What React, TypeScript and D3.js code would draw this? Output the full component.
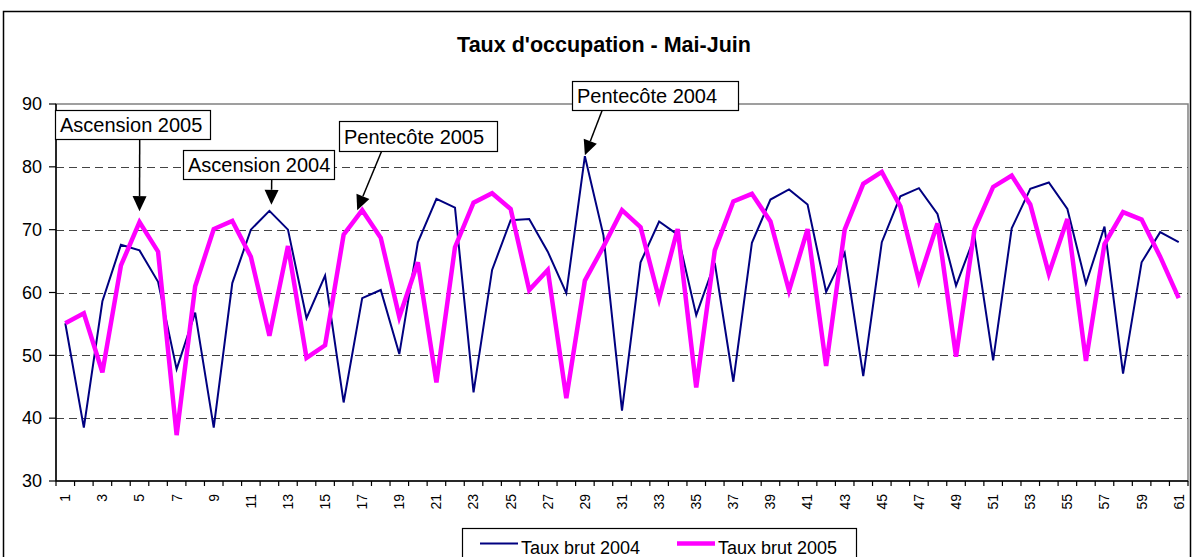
import * as d3 from 'd3'

// day index, Mai-Juin
const days = d3.range(1, 62)

const taux2004 = [
  55.1, 38.5, 58.6, 67.6, 66.7, 61.7, 47.8, 56.8, 38.5, 61.5,
  70.0, 73.0, 70.0, 55.9, 62.7, 42.5, 59.1, 60.4, 50.2, 68.0,
  74.9, 73.5, 44.1, 63.6, 71.5, 71.7, 66.5, 59.9, 81.7, 69.1,
  41.2, 64.8, 71.3, 69.2, 56.4, 64.7, 45.8, 67.9, 74.8, 76.4,
  74.0, 60.1, 66.3, 46.7, 68.0, 75.3, 76.6, 72.5, 61.1, 68.9,
  49.2, 70.2, 76.5, 77.5, 73.3, 61.4, 70.5, 47.1, 64.8, 69.6,
  68.0,
]

const taux2005 = [
  55.1, 56.7, 47.3, 64.3, 71.2, 66.5, 37.3, 61.0, 70.1, 71.4,
  65.7, 53.1, 67.4, 49.6, 51.6, 69.2, 73.1, 68.7, 56.1, 64.8,
  45.7, 67.2, 74.3, 75.8, 73.3, 60.4, 63.6, 43.2, 61.9, 67.3,
  73.1, 70.4, 59.0, 70.1, 44.9, 66.7, 74.5, 75.7, 71.3, 60.3,
  70.1, 48.3, 70.0, 77.3, 79.2, 73.7, 61.9, 71.0, 49.8, 70.1,
  76.8, 78.6, 74.0, 63.0, 71.7, 49.1, 67.7, 72.8, 71.6, 65.7,
  59.1,
]

const yTicks = [30, 40, 50, 60, 70, 80, 90]

const seriesNames = ['Taux brut 2004', 'Taux brut 2005']

const annotationLabels = ['Ascension 2005', 'Ascension 2004', 'Pentecôte 2005', 'Pentecôte 2004']
const annotationDays = [5, 12, 17, 29]
const annotationSeries = [1, 0, 1, 0]

// box placement + arrow start / tip offset, per annotation (layout only)
const annotationLayout = [
  { x: 55, y: 110, w: 155, h: 29, sx: 139.7, dx: 0, dy: -11 },
  { x: 183, y: 150, w: 151, h: 29, sx: 271.7, dx: 2, dy: -6 },
  { x: 339, y: 121, w: 158, h: 30, sx: 381.7, dx: -5, dy: 0 },
  { x: 572, y: 81, w: 166, h: 29, sx: 602.3, dx: 0, dy: -1 },
]

const FONT = '"Liberation Sans", Arial, sans-serif'
const COLORS = ['#000080', '#ff00ff']
const WIDTHS = [2, 4.5]

const W = 1192
const H = 557
const plot = { left: 56, right: 1188, top: 104, bottom: 481 }

const Arrow = ({ x1, y1, x2, y2 }: { x1: number; y1: number; x2: number; y2: number }) => {
  const len = Math.hypot(x2 - x1, y2 - y1)
  const ux = (x2 - x1) / len
  const uy = (y2 - y1) / len
  const head = 15
  const half = 7
  const bx = x2 - ux * head
  const by = y2 - uy * head
  const pts = [
    [x2, y2],
    [bx - uy * half, by + ux * half],
    [bx + uy * half, by - ux * half],
  ]
  return (
    <g>
      <line x1={x1} y1={y1} x2={bx} y2={by} stroke="#000" strokeWidth={1.5} />
      <polygon points={pts.map((p) => p.join(',')).join(' ')} fill="#000" />
    </g>
  )
}

export default function App() {
  const x = d3.scalePoint<number>().domain(days).range([plot.left, plot.right]).padding(0.5)
  const band = d3.scaleBand<number>().domain(days).range([plot.left, plot.right])
  const y = d3.scaleLinear().domain([30, 90]).range([plot.bottom, plot.top])

  const tickEdges = [...days.map((d) => band(d) as number), plot.right]

  const line = d3
    .line<number>()
    .x((_, i) => x(days[i]) as number)
    .y((v) => y(v))

  const allSeries = [taux2004, taux2005]

  return (
    <svg
      width={W}
      height={H}
      style={{ position: 'absolute', left: 0, top: 0, background: '#fff' }}
      fontFamily={FONT}
    >
      <rect x={3.5} y={11.5} width={1187} height={570} fill="#fff" stroke="#000" strokeWidth={1.5} />

      <text x={604} y={52} textAnchor="middle" fontSize={21.5} fontWeight="bold">
        Taux d'occupation - Mai-Juin
      </text>

      {/* plot area frame */}
      <rect
        x={plot.left}
        y={plot.top}
        width={plot.right - plot.left}
        height={plot.bottom - plot.top}
        fill="#fff"
        stroke="#808080"
        strokeWidth={1.5}
      />

      {/* gridlines */}
      {yTicks
        .filter((t) => t > 30 && t < 90)
        .map((t) => (
          <line
            key={t}
            x1={plot.left}
            x2={plot.right}
            y1={Math.round(y(t)) + 0.5}
            y2={Math.round(y(t)) + 0.5}
            stroke="#444"
            strokeWidth={1.2}
            strokeDasharray="8,5"
          />
        ))}

      {/* y axis */}
      <line x1={plot.left} x2={plot.left} y1={plot.top} y2={plot.bottom} stroke="#000" strokeWidth={1.5} />
      {yTicks.map((t) => (
        <g key={t}>
          <line x1={plot.left - 7} x2={plot.left} y1={y(t)} y2={y(t)} stroke="#000" strokeWidth={1.2} />
          <text x={42} y={y(t)} dy="0.35em" textAnchor="end" fontSize={18}>
            {t}
          </text>
        </g>
      ))}

      {/* x axis */}
      <line x1={plot.left} x2={plot.right} y1={plot.bottom} y2={plot.bottom} stroke="#000" strokeWidth={1.5} />
      {tickEdges.map((e, i) => (
        <line key={i} x1={e} x2={e} y1={plot.bottom} y2={plot.bottom + 5} stroke="#000" strokeWidth={1.2} />
      ))}
      {days
        .filter((d) => d % 2 === 1)
        .map((d) => (
          <text
            key={d}
            transform={`translate(${x(d)},${plot.bottom + 13}) rotate(-90)`}
            textAnchor="end"
            dy="0.35em"
            fontSize={14}
          >
            {d}
          </text>
        ))}

      {/* series */}
      {allSeries.map((s, i) => (
        <path
          key={i}
          d={line(s) ?? ''}
          fill="none"
          stroke={COLORS[i]}
          strokeWidth={WIDTHS[i]}
          strokeLinejoin="miter"
        />
      ))}

      {/* annotations */}
      {annotationLabels.map((label, i) => {
        const l = annotationLayout[i]
        const day = annotationDays[i]
        const v = allSeries[annotationSeries[i]][day - 1]
        const tx = (x(day) as number) + l.dx
        const ty = y(v) + l.dy
        return (
          <g key={label}>
            <Arrow x1={l.sx} y1={l.y + l.h} x2={tx} y2={ty} />
            <rect x={l.x + 0.5} y={l.y + 0.5} width={l.w} height={l.h} fill="#fff" stroke="#000" strokeWidth={1.2} />
            <text x={l.x + 5} y={l.y + l.h - 7} fontSize={20}>
              {label}
            </text>
          </g>
        )
      })}

      {/* legend */}
      <rect x={462.5} y={528.5} width={394} height={60} fill="#fff" stroke="#000" strokeWidth={1.2} />
      {seriesNames.map((name, i) => {
        const lx = i === 0 ? 480 : 677
        return (
          <g key={name}>
            <line x1={lx} x2={lx + 38} y1={543.5} y2={543.5} stroke={COLORS[i]} strokeWidth={WIDTHS[i]} />
            <text x={lx + 41} y={554} fontSize={18}>
              {name}
            </text>
          </g>
        )
      })}
    </svg>
  )
}
